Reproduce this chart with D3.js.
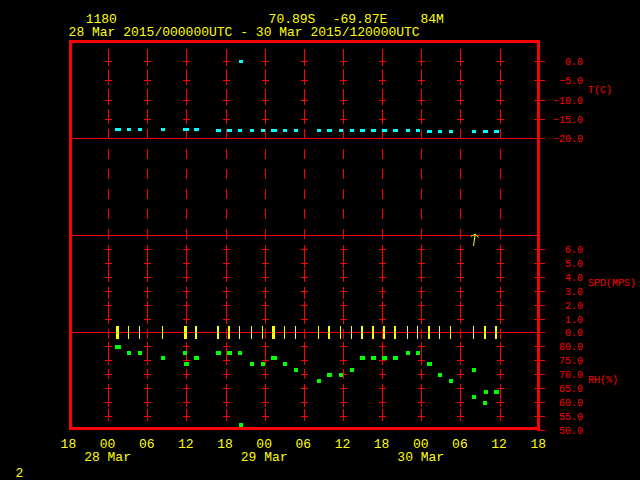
<!DOCTYPE html>
<html><head><meta charset="utf-8">
<script src="https://cdn.jsdelivr.net/npm/d3@7"></script>
<style>html,body{margin:0;padding:0;background:#000;}svg{display:block;}</style>
</head><body><svg id="c" width="640" height="480"></svg>
<script>
// ---------------- DATA ----------------
const headerItems = ["1180", "70.89S", "-69.87E", "84M"];
const headerRange = "28 Mar 2015/000000UTC - 30 Mar 2015/120000UTC";
const pageNumber = "2";
const timeStart = "2015-03-27T18:00Z";
const timeEnd = "2015-03-30T18:00Z";

const obsTimes = [
  "2015-03-28T01:13Z","2015-03-28T01:22Z","2015-03-28T01:31Z","2015-03-28T03:03Z","2015-03-28T04:45Z",
  "2015-03-28T08:16Z","2015-03-28T11:38Z","2015-03-28T11:48Z","2015-03-28T11:57Z","2015-03-28T13:20Z",
  "2015-03-28T13:29Z","2015-03-28T16:42Z","2015-03-28T16:51Z","2015-03-28T18:23Z","2015-03-28T18:32Z",
  "2015-03-28T20:04Z","2015-03-28T20:13Z","2015-03-28T21:54Z","2015-03-28T23:36Z",
  "2015-03-29T01:08Z","2015-03-29T01:17Z","2015-03-29T01:26Z","2015-03-29T02:58Z","2015-03-29T04:39Z",
  "2015-03-29T08:11Z","2015-03-29T09:43Z","2015-03-29T09:52Z","2015-03-29T11:33Z","2015-03-29T13:14Z",
  "2015-03-29T14:46Z","2015-03-29T14:55Z","2015-03-29T16:27Z","2015-03-29T16:36Z","2015-03-29T18:08Z",
  "2015-03-29T18:17Z","2015-03-29T19:49Z","2015-03-29T19:59Z","2015-03-29T21:50Z","2015-03-29T23:21Z",
  "2015-03-30T01:02Z","2015-03-30T01:11Z","2015-03-30T02:43Z","2015-03-30T04:24Z","2015-03-30T07:56Z",
  "2015-03-30T07:56Z","2015-03-30T09:38Z","2015-03-30T09:46Z","2015-03-30T11:18Z","2015-03-30T11:27Z"
];
const tempC = [
  -17.7,-17.7,-17.7,-17.7,-17.7,-17.7,-17.7,-17.7,-17.7,-17.7,
  -17.7,-17.9,-17.9,-17.9,-17.9,-17.9,0.0,-17.9,-17.9,
  -17.9,-17.9,-17.9,-17.9,-17.9,-17.9,-17.9,-17.9,-17.9,-17.9,
  -17.9,-17.9,-17.9,-17.9,-17.9,-17.9,-17.9,-17.9,-17.9,-17.9,
  -18.2,-18.2,-18.2,-18.2,-18.2,-18.2,-18.2,-18.2,-18.2,-18.2
];
const rhPct = [
  80.0,80.0,80.0,77.7,77.7,75.9,77.7,73.8,73.8,75.9,
  75.9,77.7,77.7,77.7,77.7,77.7,52.1,73.8,73.8,
  75.9,75.9,75.9,73.8,71.8,67.7,70.0,70.0,70.0,71.8,
  75.9,75.9,75.9,75.9,75.9,75.9,75.9,75.9,77.7,77.7,
  73.8,73.8,70.0,67.7,71.8,62.0,60.0,63.9,63.9,63.9
];
const windSpd = [
  0,0,0,0,0,0,0,0,0,0,
  0,0,0,0,0,0,null,0,0,
  0,0,0,0,0,0,0,0,0,0,
  0,0,0,0,0,0,0,0,0,0,
  0,0,0,0,0,0,0,0,0,0
];
const arrowTimes = ["2015-03-30T07:56Z"];
const arrowDirDeg = [8];

const tTicks = [0, -5, -10, -15, -20];
const spdTicks = [6, 5, 4, 3, 2, 1, 0];
const rhTicks = [80, 75, 70, 65, 60, 55, 50];
const axisTitles = ["T(C)", "SPD(MPS)", "RH(%)"];

// ---------------- DRAWING ----------------
const RED = "#ff0000", YEL = "#ffff00", CYAN = "#00ffff", GRN = "#00ff00";
const MONO = "'Liberation Mono','DejaVu Sans Mono',monospace";
const parse = s => new Date(s);
const t0 = parse(timeStart), t1 = parse(timeEnd);

const svg = d3.select("#c").attr("shape-rendering", "crispEdges");
svg.append("rect").attr("width", 640).attr("height", 480).attr("fill", "#000");

const x = d3.scaleUtc().domain([t0, t1]).range([69.4, 539.2]);
const yT = d3.scaleLinear().domain([0, -20]).range([61.6, 138.6]);
const yS = d3.scaleLinear().domain([0, 6]).range([332.9, 249.8]);
const yR = d3.scaleLinear().domain([50, 80]).range([430.5, 346.5]);
const px = v => Math.floor(v);

const frameL = 72, frameR = 537, midLineY = 235.5;

// vertical dashed time grid
const gridTimes = x.ticks(d3.utcHour.every(6)).filter(t => t > t0 && t < t1);
const g = svg.append("g").attr("stroke", RED).attr("stroke-width", 1).attr("fill", "none");
gridTimes.forEach(t => {
  const p = px(x(t)) + 0.5;
  g.append("line").attr("x1", p).attr("x2", p).attr("y1", 49).attr("y2", 427)
    .attr("stroke-dasharray", "10,10");
});

// crosses at tick levels
const crossYs = [
  ...tTicks.filter(v => v !== -20).map(yT),
  ...spdTicks.filter(v => v !== 0).map(yS),
  ...rhTicks.filter(v => v !== 50).map(yR)
];
gridTimes.forEach(t => {
  const p = px(x(t));
  crossYs.forEach(yy => {
    const r = px(yy);
    g.append("path").attr("d",
      `M${p - 3},${r + 0.5}H${p + 4}M${p + 0.5},${r - 4}V${r + 5}`);
  });
});

// full-width horizontal lines
[yT(-20), yS(0)].forEach(yy => {
  g.append("line").attr("x1", frameL).attr("x2", 545)
    .attr("y1", px(yy) + 0.5).attr("y2", px(yy) + 0.5);
});
g.append("line").attr("x1", frameL).attr("x2", frameR)
  .attr("y1", midLineY).attr("y2", midLineY);

// right axis ticks + labels
const fmt = d3.format(".1f");
const rightLevels = [
  ...tTicks.map(v => [yT(v), v]),
  ...spdTicks.map(v => [yS(v), v]),
  ...rhTicks.map(v => [yR(v), v])
];
rightLevels.forEach(([yy, v]) => {
  const r = px(yy);
  g.append("line").attr("x1", r > 428 ? 538 : 534).attr("x2", 545)
    .attr("y1", r + 0.5).attr("y2", r + 0.5);
  svg.append("text").attr("x", 583).attr("y", r + 4).attr("text-anchor", "end")
    .attr("fill", RED).attr("font-family", MONO).attr("font-size", 10)
    .text(fmt(v));
});
g.append("line").attr("x1", 538.5).attr("x2", 538.5).attr("y1", 428).attr("y2", 431)
  .attr("stroke-width", 3);

// axis titles
const titleYs = [93, 286, 383];
axisTitles.forEach((s, i) => {
  svg.append("text").attr("x", 588).attr("y", titleYs[i]).attr("fill", RED)
    .attr("font-family", MONO).attr("font-size", 10).text(s);
});

// frame
svg.append("rect").attr("x", 70.5).attr("y", 41).attr("width", 468).attr("height", 387.5)
  .attr("fill", "none").attr("stroke", RED).attr("stroke-width", 3);

// data records
const recs = obsTimes.map((s, i) => ({ t: parse(s), T: tempC[i], RH: rhPct[i], S: windSpd[i] }));

// wind speed bars
svg.append("g").selectAll("rect").data(recs.filter(d => d.S !== null)).join("rect")
  .attr("x", d => px(x(d.t))).attr("y", d => px(yS(d.S)) - 6)
  .attr("width", 1).attr("height", 13).attr("fill", YEL);

// temperature markers
svg.append("g").selectAll("rect").data(recs.filter(d => d.T !== null)).join("rect")
  .attr("x", d => px(x(d.t)) - 1).attr("y", d => px(yT(d.T)) - 1)
  .attr("width", 4).attr("height", 3).attr("fill", CYAN);

// RH markers
svg.append("g").selectAll("rect").data(recs.filter(d => d.RH !== null)).join("rect")
  .attr("x", d => px(x(d.t)) - 1).attr("y", d => px(yR(d.RH)) - 1)
  .attr("width", 4).attr("height", 4).attr("fill", GRN);

// wind direction arrow(s)
arrowTimes.forEach((s, i) => {
  const a = arrowDirDeg[i] * Math.PI / 180;
  const bx = x(parse(s)), by = 246, L = 12;
  const tx = bx + L * Math.sin(a), ty = by - L * Math.cos(a);
  const h1 = a + Math.PI - 0.95, h2 = a + Math.PI + 0.95;
  svg.append("path").attr("shape-rendering", "auto")
    .attr("d", `M${bx},${by}L${tx},${ty}M${tx + 5 * Math.sin(h1)},${ty - 5 * Math.cos(h1)}L${tx},${ty}L${tx + 5 * Math.sin(h2)},${ty - 5 * Math.cos(h2)}`)
    .attr("stroke", YEL).attr("stroke-width", 1).attr("fill", "none");
});

// header
const headerX = [85.7, 268.6, 332.7, 420.4];
headerItems.forEach((s, i) => {
  svg.append("text").attr("x", headerX[i]).attr("y", 23).attr("fill", YEL)
    .attr("font-family", MONO).attr("font-size", 13).text(s);
});
svg.append("text").attr("x", 68.6).attr("y", 36).attr("fill", YEL)
  .attr("font-family", MONO).attr("font-size", 13).text(headerRange);

// bottom time axis labels
const hourTicks = x.ticks(d3.utcHour.every(6));
svg.append("g").selectAll("text").data(hourTicks).join("text")
  .attr("x", d => x(d) - 1).attr("y", 448).attr("text-anchor", "middle")
  .attr("fill", YEL).attr("font-family", MONO).attr("font-size", 13)
  .text(d3.utcFormat("%H"));
const dayTicks = x.ticks(d3.utcDay.every(1)).filter(d => d > t0 && d < t1);
svg.append("g").selectAll("text").data(dayTicks).join("text")
  .attr("x", d => x(d) - 1).attr("y", 461).attr("text-anchor", "middle")
  .attr("fill", YEL).attr("font-family", MONO).attr("font-size", 13)
  .text(d3.utcFormat("%d %b"));

svg.append("text").attr("x", 15.5).attr("y", 477).attr("fill", YEL)
  .attr("font-family", MONO).attr("font-size", 13).text(pageNumber);
</script></body></html>
